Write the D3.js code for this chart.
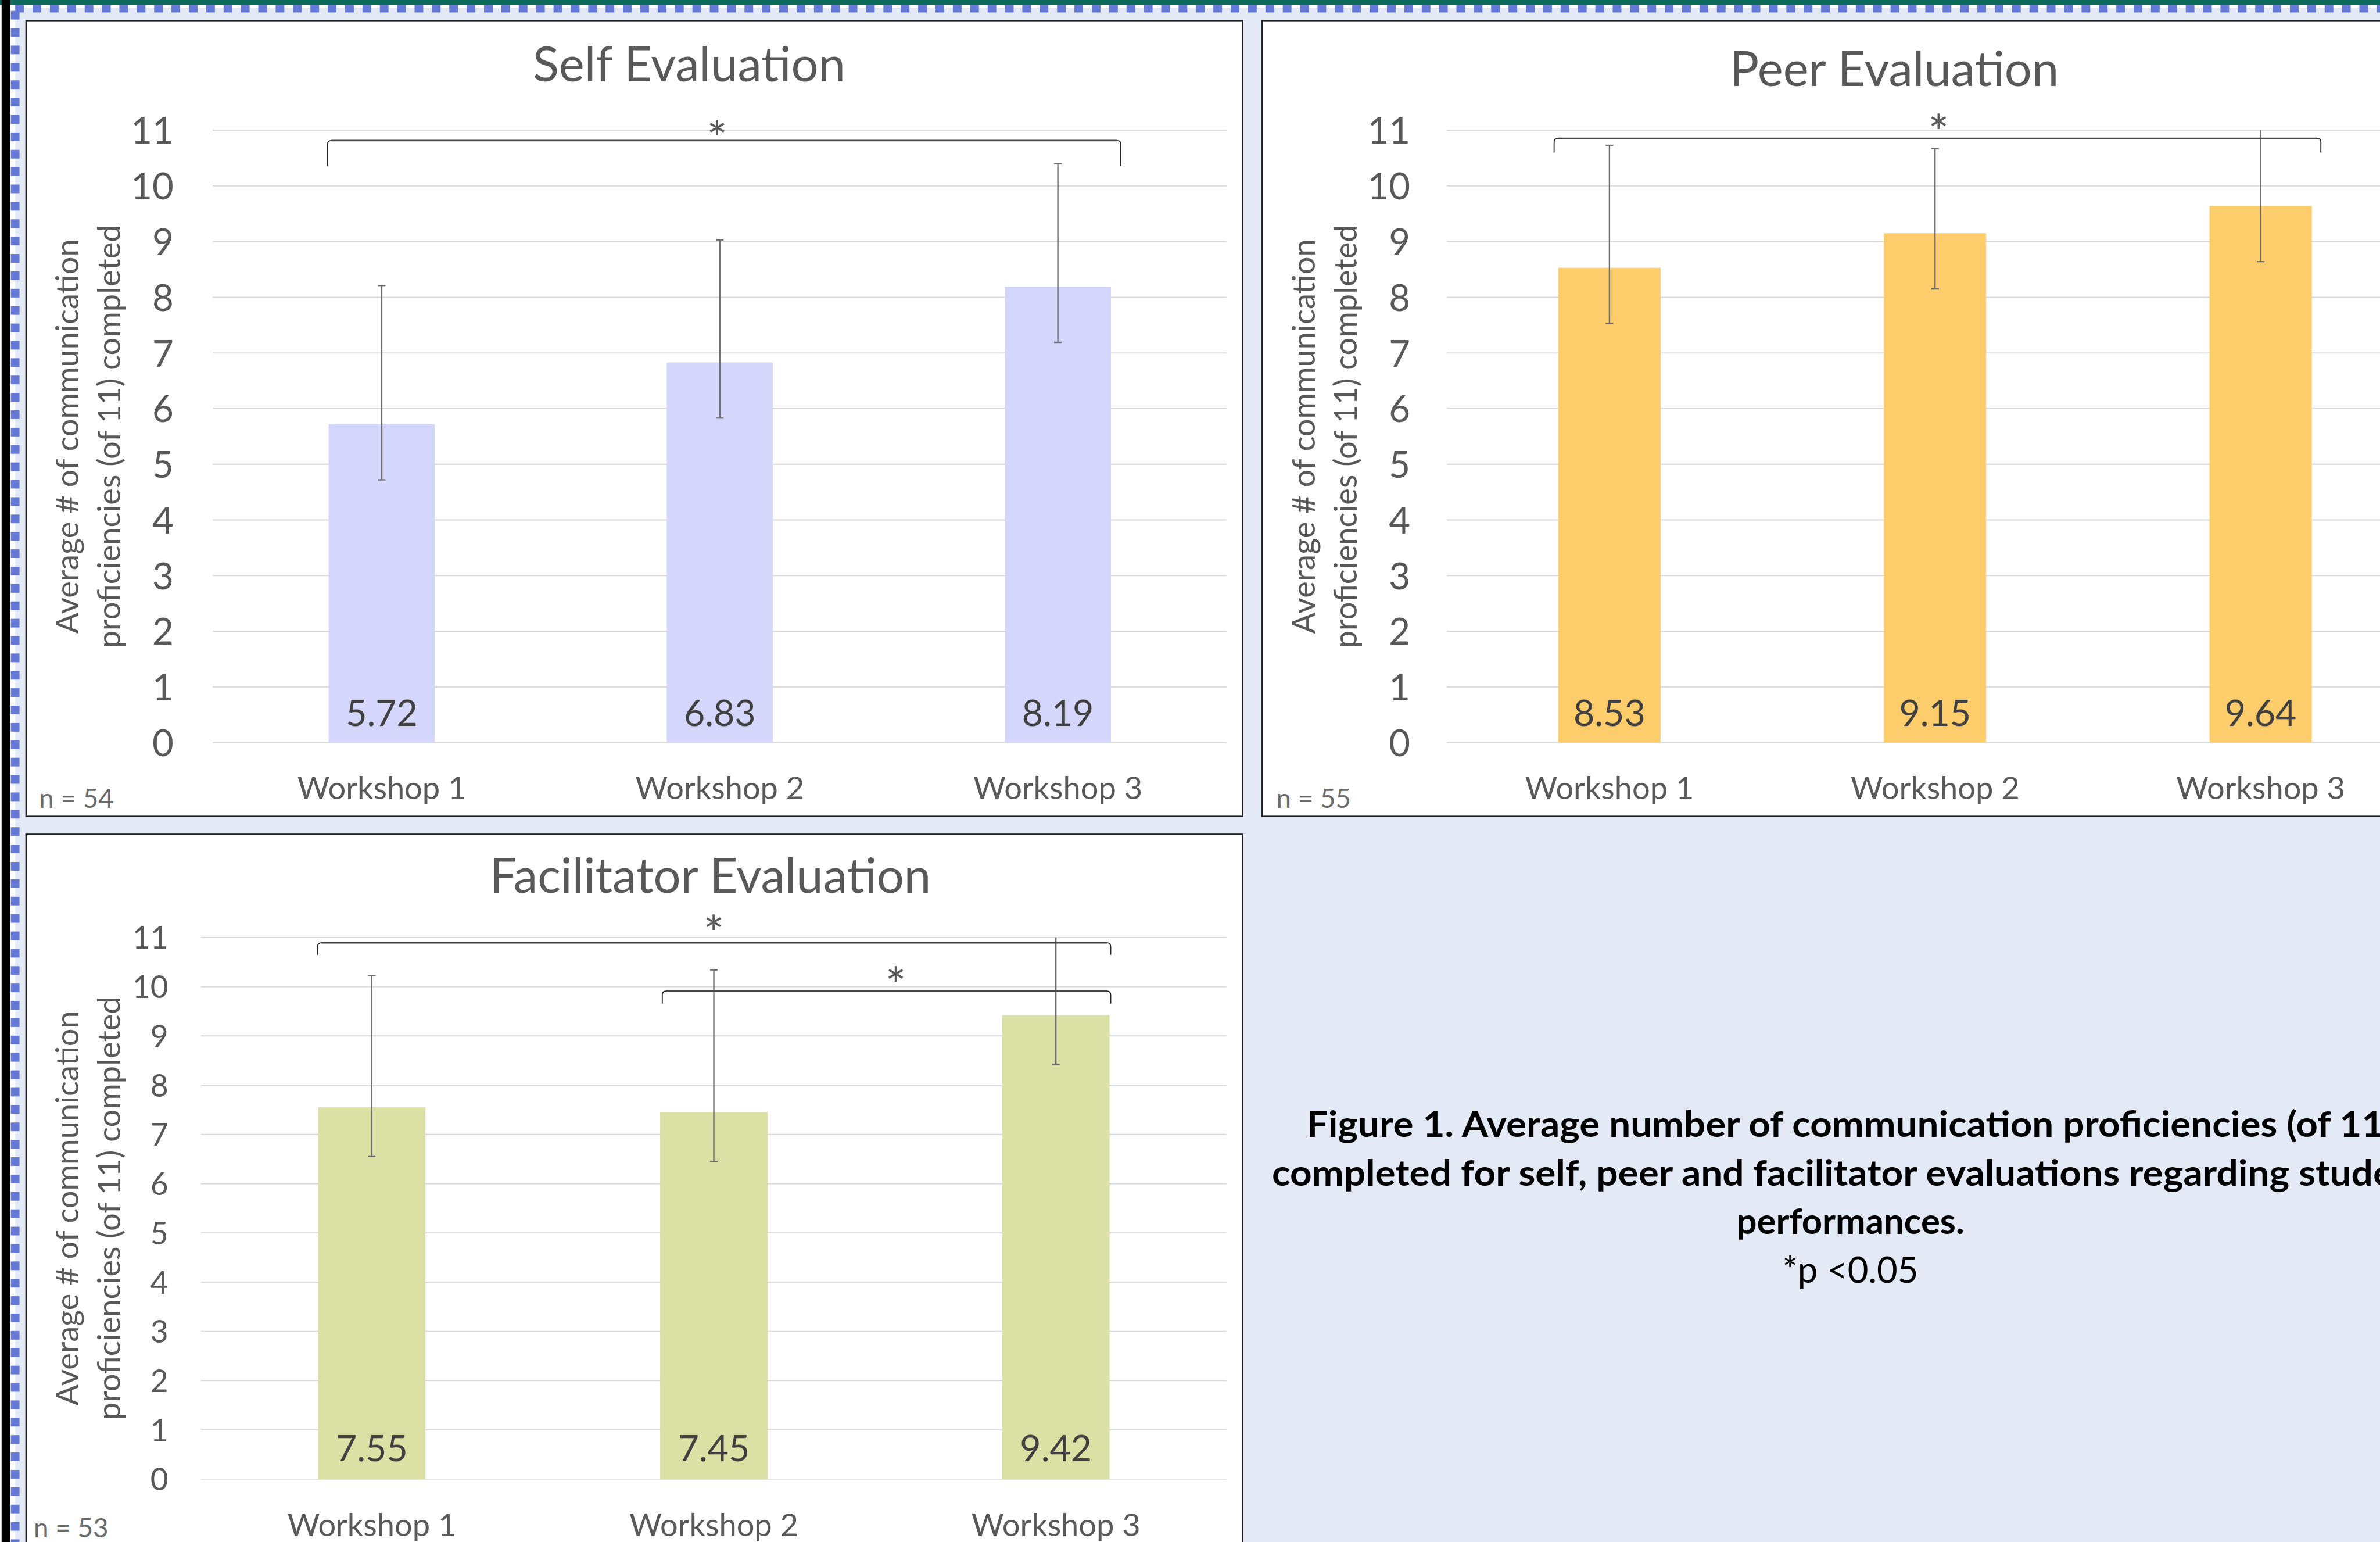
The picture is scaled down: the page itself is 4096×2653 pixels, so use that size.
<!DOCTYPE html>
<html>
<head>
<meta charset="utf-8">
<script src="https://cdn.jsdelivr.net/npm/d3@7"></script>
<style>
  html, body { margin: 0; padding: 0; background: #E3E9F5; overflow: hidden; }
  svg { display: block; }
  text { font-family: Lato, "Open Sans", "Noto Sans", sans-serif; }
</style>
</head>
<body>
<svg id="fig" width="4096" height="2653"></svg>
<script>
// ---- data ----
const categories = ["Workshop 1", "Workshop 2", "Workshop 3"];
const yTickValues = [0, 1, 2, 3, 4, 5, 6, 7, 8, 9, 10, 11];

const selfMeans = [5.72, 6.83, 8.19];
const selfErrMinus = [1.0, 1.0, 1.0];
const selfErrPlus = [2.49, 2.20, 2.21];

const peerMeans = [8.53, 9.15, 9.64];
const peerErrMinus = [1.0, 1.0, 1.0];
const peerErrPlus = [2.20, 1.52, 1.60];

const facilitatorMeans = [7.55, 7.45, 9.42];
const facilitatorErrMinus = [1.0, 1.0, 1.0];
const facilitatorErrPlus = [2.67, 2.89, 1.75];

const sampleSizes = [54, 55, 53];
const panelTitles = ["Self Evaluation", "Peer Evaluation", "Facilitator Evaluation"];
const yAxisTitle = ["Average # of communication", "proficiencies (of 11) completed"];

// significant pairs (category indices), p < 0.05
const selfSig = [[0, 2]];
const peerSig = [[0, 2]];
const facilitatorSig = [[0, 2], [1, 2]];

const captionLines = [
  "Figure 1. Average number of communication proficiencies (of 11)",
  "completed for self, peer and facilitator evaluations regarding student",
  "performances.",
  "*p <0.05"
];

// ---- page geometry (drawn in a 4386 x 2841 frame, scaled to the window) ----
const W = 4386, H = 2841, S = 4096 / 4386;
const svg = d3.select("#fig");
const root = svg.append("g").attr("transform", `scale(${S})`);

// page background and decorative frame
root.append("rect").attr("width", W).attr("height", H).attr("fill", "#E3E9F5");
root.append("rect").attr("x", 0).attr("y", 0).attr("width", W).attr("height", 9).attr("fill", "#0B6A5A");
root.append("rect").attr("x", 0).attr("y", 9).attr("width", 3).attr("height", H).attr("fill", "#ffffff");
root.append("rect").attr("x", 3).attr("y", 0).attr("width", 16).attr("height", H).attr("fill", "#000000");
root.append("rect").attr("x", 19).attr("y", 9).attr("width", W - 19).attr("height", 5).attr("fill", "#ffffff");
root.append("rect").attr("x", 19).attr("y", 9).attr("width", 9).attr("height", H - 9).attr("fill", "#ffffff");
root.append("g").selectAll("rect").data(d3.range(28, W, 32)).join("rect")
  .attr("x", d => d).attr("y", 9).attr("width", 16).attr("height", 14).attr("fill", "#6479D5");
root.append("g").selectAll("rect").data(d3.range(20, H, 32)).join("rect")
  .attr("x", 20).attr("y", d => d).attr("width", 16).attr("height", 16).attr("fill", "#6479D5");

// ---- panel layout ----
const panels = [
  {
    title: panelTitles[0], means: selfMeans, minus: selfErrMinus, plus: selfErrPlus,
    n: sampleSizes[0], sig: selfSig, color: "#D4D6FC",
    box: [48, 38, 2242, 1466], xr: [392, 2261], yr: [1368, 240],
    tickRight: 320, tickFont: 68, titleX: 1270, titleY: 150,
    nX: 72, nY: 1488, catY: 1472, valOffset: 31, axisTitleX: [145, 222],
    brackets: [{ yTop: 259, yDrop: 306, dl: -100, dr: 116, starDx: -13, starY: 236 }]
  },
  {
    title: panelTitles[1], means: peerMeans, minus: peerErrMinus, plus: peerErrPlus,
    n: sampleSizes[1], sig: peerSig, color: "#FDCC6B",
    box: [2326, 38, 2100, 1466], xr: [2666, 4466], yr: [1368, 240],
    tickRight: 2599, tickFont: 68, titleX: 3491, titleY: 159,
    nX: 2352, nY: 1488, catY: 1472, valOffset: 31, axisTitleX: [2423, 2500],
    brackets: [{ yTop: 255, yDrop: 281, dl: -102, dr: 111, starDx: 2, starY: 224 }]
  },
  {
    title: panelTitles[2], means: facilitatorMeans, minus: facilitatorErrMinus, plus: facilitatorErrPlus,
    n: sampleSizes[2], sig: facilitatorSig, color: "#DBE0A5",
    box: [48, 1537, 2242, 1400], xr: [370, 2261], yr: [2725, 1727],
    tickRight: 310, tickFont: 57, titleX: 1309, titleY: 1645,
    nX: 62, nY: 2832, catY: 2830, valOffset: 33, axisTitleX: [145, 222],
    brackets: [
      { yTop: 1737, yDrop: 1759, dl: -100, dr: 101, starDx: -1, starY: 1700 },
      { yTop: 1826, yDrop: 1849, dl: -95, dr: 101, starDx: 17, starY: 1795 }
    ]
  }
];

const TEXT = "#595959";

panels.forEach(p => {
  const g = root.append("g");
  const yMax = d3.max(yTickValues);

  // panel frame
  g.append("rect")
    .attr("x", p.box[0]).attr("y", p.box[1]).attr("width", p.box[2]).attr("height", p.box[3])
    .attr("fill", "#ffffff").attr("stroke", "#1e1e1e").attr("stroke-width", 2.5);

  const x = d3.scaleBand().domain(categories).range(p.xr).paddingInner(0.686).paddingOuter(0.343);
  const y = d3.scaleLinear().domain([0, yMax]).range(p.yr);

  // horizontal gridlines
  g.append("g").selectAll("line").data(yTickValues).join("line")
    .attr("x1", p.xr[0]).attr("x2", p.xr[1])
    .attr("y1", d => y(d)).attr("y2", d => y(d))
    .attr("stroke", "#D9D9D9").attr("stroke-width", 2);

  // y tick labels
  const axis = g.append("g").attr("transform", `translate(${p.tickRight},0)`)
    .call(d3.axisLeft(y).tickValues(yTickValues).tickSize(0).tickPadding(0).tickFormat(d3.format("d")));
  axis.select(".domain").remove();
  axis.selectAll("text")
    .attr("dy", "0.36em")
    .style("font-family", "Lato, 'Open Sans', sans-serif")
    .style("font-size", p.tickFont + "px")
    .attr("fill", TEXT);

  // bars
  g.append("g").selectAll("rect").data(p.means).join("rect")
    .attr("x", (d, i) => x(categories[i]))
    .attr("y", d => y(d))
    .attr("width", x.bandwidth())
    .attr("height", d => y(0) - y(d))
    .attr("fill", p.color);

  // error bars (clipped at the axis maximum)
  const cx = i => x(categories[i]) + x.bandwidth() / 2;
  const eg = g.append("g").attr("stroke", "#6E6E6E").attr("stroke-width", 2.5);
  p.means.forEach((m, i) => {
    const lo = m - p.minus[i];
    const hi = m + p.plus[i];
    const hiC = Math.min(hi, yMax);
    eg.append("line").attr("x1", cx(i)).attr("x2", cx(i)).attr("y1", y(lo)).attr("y2", y(hiC));
    eg.append("line").attr("x1", cx(i) - 7).attr("x2", cx(i) + 7).attr("y1", y(lo)).attr("y2", y(lo));
    if (hi <= yMax) {
      eg.append("line").attr("x1", cx(i) - 7).attr("x2", cx(i) + 7).attr("y1", y(hi)).attr("y2", y(hi));
    }
  });

  // value labels
  g.append("g").selectAll("text").data(p.means).join("text")
    .attr("x", (d, i) => cx(i))
    .attr("y", y(0) - p.valOffset)
    .attr("text-anchor", "middle")
    .style("font-size", "67px")
    .attr("fill", "#404040")
    .text(d => d.toFixed(2));

  // category labels
  g.append("g").selectAll("text").data(categories).join("text")
    .attr("x", (d, i) => cx(i))
    .attr("y", p.catY)
    .attr("text-anchor", "middle")
    .style("font-size", "58px")
    .attr("fill", TEXT)
    .text(d => d);

  // panel title
  g.append("text")
    .attr("x", p.titleX).attr("y", p.titleY)
    .attr("text-anchor", "middle")
    .style("font-size", "89px")
    .attr("fill", TEXT)
    .text(p.title);

  // y axis title (two lines)
  const yc = (p.yr[0] + p.yr[1]) / 2;
  yAxisTitle.forEach((line, k) => {
    g.append("text")
      .attr("transform", `translate(${p.axisTitleX[k]},${yc}) rotate(-90)`)
      .attr("text-anchor", "middle")
      .style("font-size", "58px")
      .attr("fill", TEXT)
      .text(line);
  });

  // sample size
  g.append("text")
    .attr("x", p.nX).attr("y", p.nY)
    .style("font-size", "49px")
    .attr("fill", "#6B6B6B")
    .text(`n = ${p.n}`);

  // significance brackets
  p.sig.forEach((pair, k) => {
    const b = p.brackets[k];
    const xl = cx(pair[0]) + b.dl;
    const xr = cx(pair[1]) + b.dr;
    const r = 7;
    g.append("path")
      .attr("d", `M${xl},${b.yDrop} L${xl},${b.yTop + r} Q${xl},${b.yTop} ${xl + r},${b.yTop} ` +
                 `L${xr - r},${b.yTop} Q${xr},${b.yTop} ${xr},${b.yTop + r} L${xr},${b.yDrop}`)
      .attr("fill", "none").attr("stroke", "#262626").attr("stroke-width", 2);
    g.append("line")
      .attr("x1", xl + r).attr("x2", xr - r).attr("y1", b.yTop).attr("y2", b.yTop)
      .attr("stroke", "#474747").attr("stroke-width", 3);
    g.append("text")
      .attr("x", (xl + xr) / 2 + b.starDx)
      .attr("y", b.starY + 0.58 * 90)
      .attr("text-anchor", "middle")
      .style("font-size", "90px")
      .attr("fill", TEXT)
      .text("*");
  });
});

// ---- figure caption ----
const capX = 3410;
const capSpecs = [
  { y: 2095, bold: true, len: 2004 },
  { y: 2184, bold: true, len: 2132 },
  { y: 2273, bold: true, len: null },
  { y: 2363, bold: false, len: null }
];
captionLines.forEach((line, i) => {
  const c = capSpecs[i];
  const t = root.append("text")
    .attr("y", c.y)
    .style("font-size", "66px")
    .style("font-weight", c.bold ? 700 : 400)
    .attr("fill", "#000000")
    .text(line);
  if (c.len) {
    t.attr("x", capX - c.len / 2)
      .attr("textLength", c.len)
      .attr("lengthAdjust", "spacingAndGlyphs");
  } else {
    t.attr("x", capX).attr("text-anchor", "middle");
  }
});
</script>
</body>
</html>
